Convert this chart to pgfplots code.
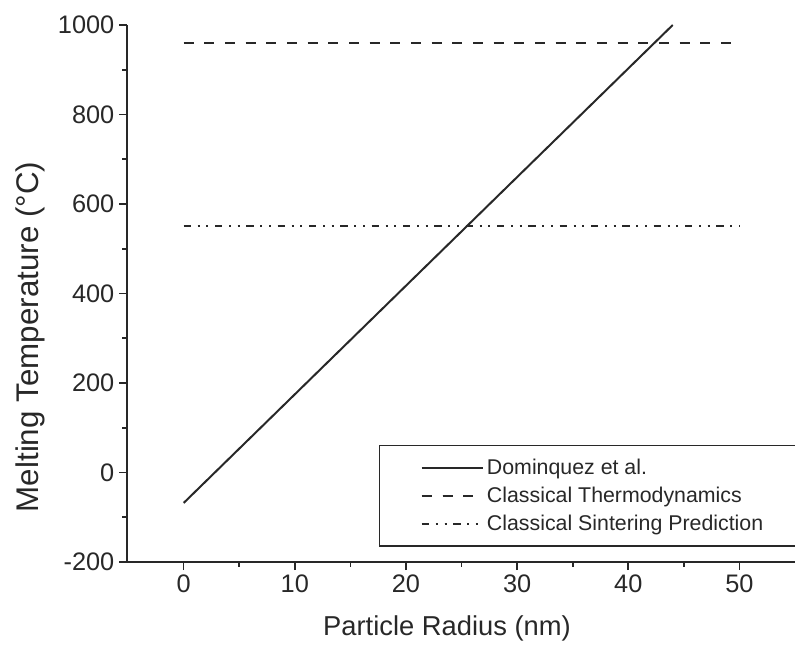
\documentclass[border=0pt]{standalone}
\usepackage{fontspec}
\setmainfont{Liberation Sans}
\usepackage{pgfplots}
\pgfplotsset{compat=1.18}

\definecolor{ink}{RGB}{40,40,40}

\begin{document}
\begin{tikzpicture}
  \useasboundingbox (0,0) rectangle (596.25pt,483pt);
  \clip (0,0) rectangle (596.25pt,483pt);
  \begin{axis}[
    at={(95.25pt,61.5pt)}, anchor=south west,
    scale only axis,
    width=501pt, height=402.75pt,
    xmin=-5.1, xmax=55, ymin=-200, ymax=1000,
    axis x line=bottom, axis y line=left,
    axis line style={-, line width=1.2pt, ink},
    xtick={0,10,...,50}, ytick={-200,0,...,1000},
    minor x tick num=1, minor y tick num=1,
    tick align=outside,
    major tick length=6pt, minor tick length=3.5pt,
    tick style={line width=1.2pt, ink},
    /pgf/number format/assume math mode=true,
    /pgf/number format/set thousands separator={},
    tick label style={font=\fontsize{19}{22}\selectfont, text=ink},
    xlabel={Particle Radius (nm)},
    ylabel={Melting Temperature (°C)},
    xlabel style={at={(axis description cs:0.479,-0.123)}, anchor=center,
      font=\fontsize{20.5}{24}\selectfont, text=ink},
    ylabel style={at={(axis description cs:-0.145,0.419)}, anchor=center,
      rotate=0, font=\fontsize{23.5}{27}\selectfont, text=ink},
    legend style={at={(rel axis cs:0.377,0.218)}, anchor=north west,
      draw=ink, line width=1pt, font=\fontsize{16}{19}\selectfont,
      inner xsep=31pt, inner ysep=8pt, row sep=4pt, text=ink},
    legend cell align=left,
    legend image code/.code={\draw[#1] (0pt,0pt) -- (42pt,0pt);
      \path (0pt,0pt) -- (46pt,0pt);},
  ]
    \addplot[ink, line width=1.5pt] coordinates {(0,-68) (44,1000)};
    \addplot[ink, line width=1.6pt, dash pattern=on 7.5pt off 8pt]
      coordinates {(0,960) (50,960)};
    \addplot[ink, line width=1.6pt,
      dash pattern=on 5.5pt off 5pt on 1.5pt off 5pt on 1.5pt off 5pt]
      coordinates {(0,550) (50,550)};
    \legend{Dominquez et al., Classical Thermodynamics, Classical Sintering Prediction}
  \end{axis}
\end{tikzpicture}
\end{document}
